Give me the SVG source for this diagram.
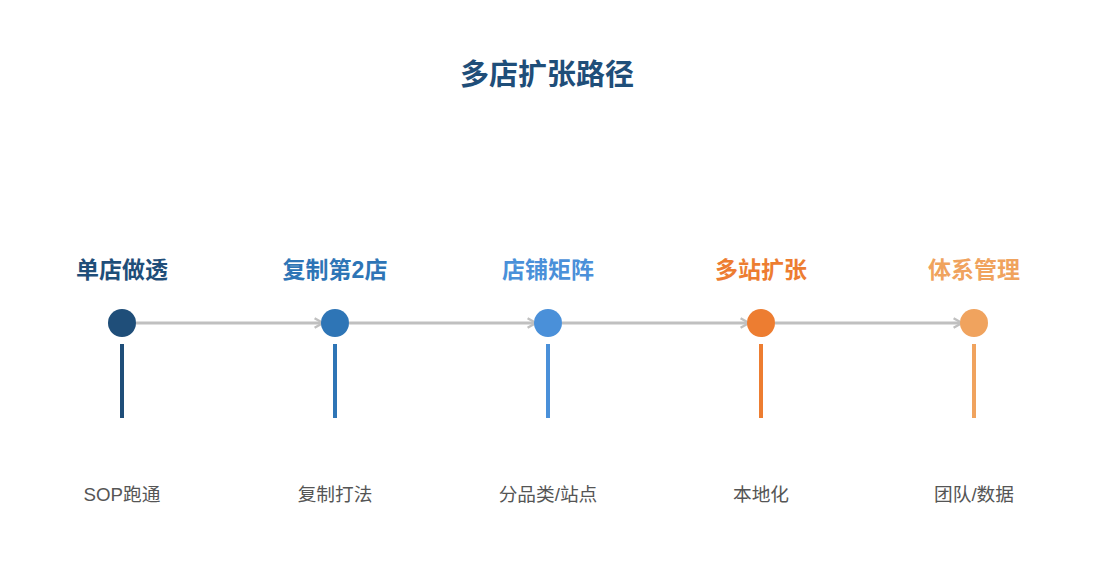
<svg xmlns="http://www.w3.org/2000/svg" width="1095" height="585" viewBox="0 0 1095 585">
<style>
.title{font-family:"Liberation Sans","Noto Sans CJK SC",sans-serif;font-size:29px;font-weight:bold;fill:#1f4e79;text-anchor:middle}
.lab{font-family:"Liberation Sans","Noto Sans CJK SC",sans-serif;font-size:23px;font-weight:bold;text-anchor:middle}
.sub{font-family:"Liberation Sans","Noto Sans CJK SC",sans-serif;font-size:18.7px;fill:#555555;text-anchor:middle}
.conn{stroke:#c0c0c0;stroke-width:3;fill:none}
.stem{stroke-width:4}
</style>
<defs>
<marker id="arr" viewBox="0 0 10 10" refX="9" refY="5" markerWidth="4" markerHeight="4" orient="auto" markerUnits="strokeWidth">
<polyline points="2,1 9,5 2,9" fill="none" stroke="#c0c0c0" stroke-width="2"/>
</marker>
</defs>
<rect width="1095" height="585" fill="#ffffff"/>
<text class="title" x="547" y="85">多店扩张路径</text>
<g id="connectors">
<line class="conn" x1="136" y1="323" x2="323" y2="323" marker-end="url(#arr)"/>
<line class="conn" x1="349" y1="323" x2="536" y2="323" marker-end="url(#arr)"/>
<line class="conn" x1="562" y1="323" x2="749" y2="323" marker-end="url(#arr)"/>
<line class="conn" x1="775" y1="323" x2="962" y2="323" marker-end="url(#arr)"/>
</g>
<g id="n1">
<text class="lab" x="122" y="278" fill="#1f4e79">单店做透</text>
<circle cx="122" cy="323" r="14" fill="#1f4e79"/>
<line class="stem" x1="122" y1="344" x2="122" y2="418" stroke="#1f4e79"/>
<text class="sub" x="122" y="501">SOP跑通</text>
</g>
<g id="n2">
<text class="lab" x="335" y="278" fill="#2e75b6">复制第2店</text>
<circle cx="335" cy="323" r="14" fill="#2e75b6"/>
<line class="stem" x1="335" y1="344" x2="335" y2="418" stroke="#2e75b6"/>
<text class="sub" x="335" y="501">复制打法</text>
</g>
<g id="n3">
<text class="lab" x="548" y="278" fill="#4a90d9">店铺矩阵</text>
<circle cx="548" cy="323" r="14" fill="#4a90d9"/>
<line class="stem" x1="548" y1="344" x2="548" y2="418" stroke="#4a90d9"/>
<text class="sub" x="548" y="501">分品类/站点</text>
</g>
<g id="n4">
<text class="lab" x="761" y="278" fill="#ed7d31">多站扩张</text>
<circle cx="761" cy="323" r="14" fill="#ed7d31"/>
<line class="stem" x1="761" y1="344" x2="761" y2="418" stroke="#ed7d31"/>
<text class="sub" x="761" y="501">本地化</text>
</g>
<g id="n5">
<text class="lab" x="974" y="278" fill="#f0a35e">体系管理</text>
<circle cx="974" cy="323" r="14" fill="#f0a35e"/>
<line class="stem" x1="974" y1="344" x2="974" y2="418" stroke="#f0a35e"/>
<text class="sub" x="974" y="501">团队/数据</text>
</g>
</svg>
